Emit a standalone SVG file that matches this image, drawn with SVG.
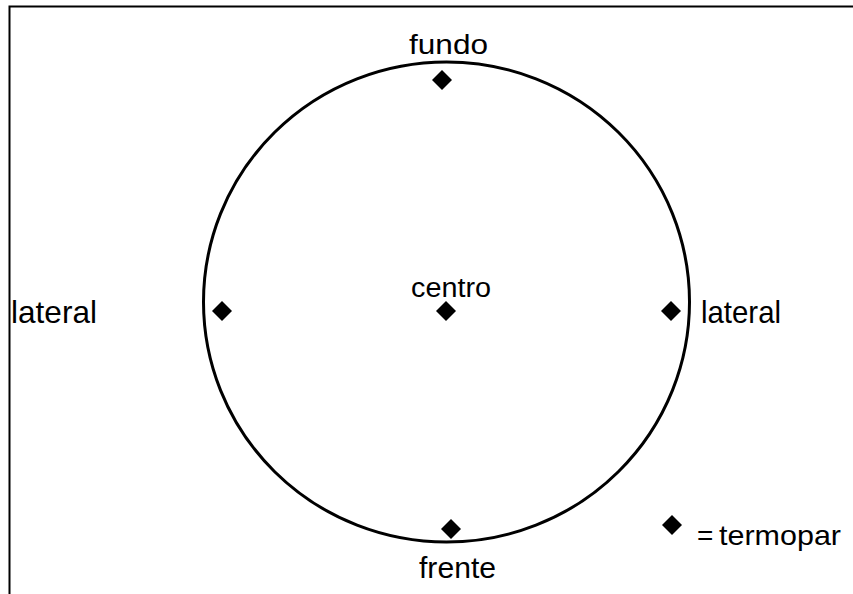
<svg xmlns="http://www.w3.org/2000/svg" width="853" height="594" viewBox="0 0 853 594">
<style>
.t{font-family:"Liberation Sans",Arial,sans-serif;fill:#000}
.d{fill:#000}
</style>
<defs>
<path id="dm" d="M0,-10 L10,0 L0,10 L-10,0 Z"/>
</defs>
<rect x="0" y="0" width="853" height="594" fill="#fff"/>
<path d="M9.5,600 L9.5,6.5 L860,6.5" fill="none" stroke="#000" stroke-width="2"/>
<g id="circle"><ellipse cx="446.5" cy="302" rx="243" ry="240" fill="none" stroke="#000" stroke-width="3"/></g>
<g id="fundo"><use href="#dm" x="442" y="80" class="d"/><text class="t" x="409" y="54" font-size="28" textLength="79" lengthAdjust="spacingAndGlyphs">fundo</text></g>
<g id="centro"><use href="#dm" x="446" y="311" class="d"/><text class="t" x="411" y="297" font-size="27" textLength="80" lengthAdjust="spacingAndGlyphs">centro</text></g>
<g id="frente"><use href="#dm" x="451" y="529" class="d"/><text class="t" x="419" y="578" font-size="30" textLength="77" lengthAdjust="spacingAndGlyphs">frente</text></g>
<g id="lateral-esq"><use href="#dm" x="222" y="311" class="d"/><text class="t" x="11" y="322.5" font-size="32" textLength="86" lengthAdjust="spacingAndGlyphs">lateral</text></g>
<g id="lateral-dir"><use href="#dm" x="671" y="311" class="d"/><text class="t" x="701" y="322.5" font-size="32" textLength="80" lengthAdjust="spacingAndGlyphs">lateral</text></g>
<g id="legenda"><use href="#dm" x="672" y="525" class="d"/><text class="t" x="697" y="545" font-size="28">=</text><text class="t" x="719" y="545" font-size="28" textLength="122" lengthAdjust="spacingAndGlyphs">termopar</text></g>
<g id="connectors"/>
</svg>
